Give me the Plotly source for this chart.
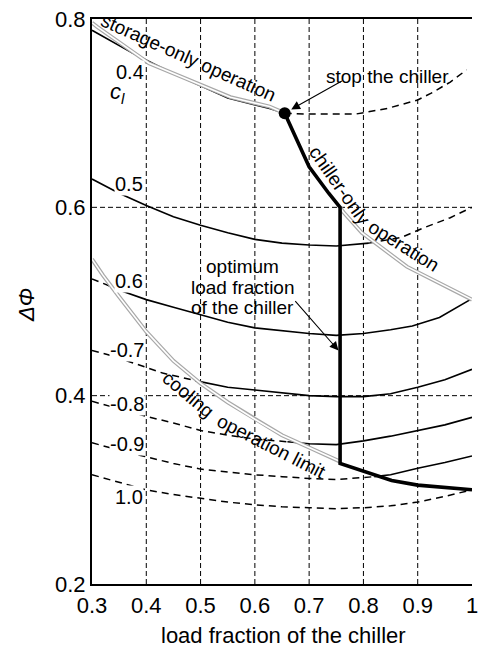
import plotly.graph_objects as go

# ---------------- data ----------------
X_TICKS = [0.3, 0.4, 0.5, 0.6, 0.7, 0.8, 0.9, 1.0]
X_TICK_TEXT = ["0.3", "0.4", "0.5", "0.6", "0.7", "0.8", "0.9", "1"]
Y_TICKS = [0.2, 0.4, 0.6, 0.8]
Y_TICK_TEXT = ["0.2", "0.4", "0.6", "0.8"]
GRID_X = [0.4, 0.5, 0.6, 0.7, 0.8, 0.9]
GRID_Y = [0.4, 0.6]

# c_l = 0.4
c04_solid_x = [0.30, 0.374, 0.45, 0.55, 0.627, 0.655]
c04_solid_y = [0.788, 0.764, 0.742, 0.716, 0.705, 0.700]
c04_dash_x = [0.655, 0.70, 0.785, 0.844, 0.90, 0.924, 0.96, 0.99]
c04_dash_y = [0.700, 0.699, 0.699, 0.705, 0.714, 0.721, 0.733, 0.746]
# c_l = 0.5
c05_solid_x = [0.30, 0.35, 0.40, 0.45, 0.50, 0.55, 0.60, 0.65, 0.70, 0.75, 0.81]
c05_solid_y = [0.630, 0.615, 0.602, 0.590, 0.581, 0.573, 0.566, 0.562, 0.560, 0.559, 0.562]
c05_dash_x = [0.81, 0.87, 0.91, 0.96, 1.00]
c05_dash_y = [0.562, 0.568, 0.578, 0.589, 0.600]
# c_l = 0.6
c06_dash_x = [0.30, 0.356]
c06_dash_y = [0.524, 0.511]
c06_solid_x = [0.356, 0.40, 0.45, 0.50, 0.55, 0.60, 0.65, 0.70, 0.75, 0.80, 0.85, 0.89, 0.94, 1.00]
c06_solid_y = [0.511, 0.502, 0.494, 0.486, 0.478, 0.472, 0.469, 0.466, 0.464, 0.466, 0.470, 0.474, 0.483, 0.503]
# c_l = 0.7
c07_dash_x = [0.30, 0.333, 0.40, 0.43, 0.46, 0.49]
c07_dash_y = [0.448, 0.443, 0.430, 0.424, 0.420, 0.416]
c07_solid_x = [0.49, 0.55, 0.60, 0.65, 0.70, 0.75, 0.80, 0.85, 0.90, 0.95, 1.00]
c07_solid_y = [0.416, 0.409, 0.406, 0.403, 0.400, 0.399, 0.399, 0.402, 0.409, 0.417, 0.428]
# c_l = 0.8
c08_dash_x = [0.30, 0.35, 0.40, 0.45, 0.50, 0.55, 0.60, 0.66]
c08_dash_y = [0.394, 0.386, 0.378, 0.371, 0.363, 0.358, 0.354, 0.351]
c08_solid_x = [0.66, 0.70, 0.75, 0.80, 0.85, 0.90, 0.95, 1.00]
c08_solid_y = [0.351, 0.349, 0.348, 0.352, 0.357, 0.363, 0.369, 0.377]
# c_l = 0.9
c09_dash_x = [0.30, 0.35, 0.40, 0.45, 0.50, 0.55, 0.60, 0.65, 0.70, 0.75, 0.80, 0.82]
c09_dash_y = [0.350, 0.342, 0.335, 0.328, 0.322, 0.319, 0.316, 0.314, 0.312, 0.311, 0.313, 0.314]
c09_solid_x = [0.82, 0.85, 0.90, 0.95, 1.00]
c09_solid_y = [0.314, 0.316, 0.323, 0.329, 0.336]
# c_l = 1.0
c10_dash_x = [0.30, 0.35, 0.40, 0.45, 0.50, 0.55, 0.60, 0.65, 0.70, 0.75, 0.80, 0.85, 0.90, 0.95, 1.00]
c10_dash_y = [0.316, 0.308, 0.300, 0.295, 0.291, 0.287, 0.284, 0.282, 0.281, 0.280, 0.281, 0.283, 0.287, 0.293, 0.300]

# operation limits
storage_x = [0.30, 0.309, 0.405, 0.555, 0.627, 0.655]
storage_y = [0.796, 0.792, 0.753, 0.717, 0.707, 0.700]
chiller_x = [0.757, 0.763, 0.797, 0.880, 1.00]
chiller_y = [0.600, 0.595, 0.573, 0.537, 0.502]
cooling_x = [0.30, 0.32, 0.35, 0.40, 0.45, 0.50, 0.55, 0.60, 0.65, 0.70, 0.757]
cooling_y = [0.545, 0.528, 0.505, 0.468, 0.437, 0.413, 0.393, 0.375, 0.358, 0.345, 0.330]

# optimum load fraction path
opt_x = [0.655, 0.663, 0.700, 0.736, 0.757, 0.757, 0.803, 0.852, 0.900, 1.00]
opt_y = [0.700, 0.690, 0.643, 0.615, 0.600, 0.328, 0.319, 0.310, 0.305, 0.300]
stop_x = [0.655]
stop_y = [0.700]

# curve labels
label_text = ["0.4", "0.5", "0.6", "-0.7", "-0.8", "-0.9", "1.0"]
label_x = [0.370, 0.369, 0.369, 0.364, 0.364, 0.364, 0.369]
label_y = [0.744, 0.625, 0.522, 0.448, 0.391, 0.349, 0.292]

FONT = "Liberation Sans, Arial, sans-serif"

fig = go.Figure()

def line(x, y, width=1.5, dash="solid", color="black"):
    fig.add_trace(go.Scatter(x=x, y=y, mode="lines", hoverinfo="skip",
                             line=dict(color=color, width=width, dash=dash),
                             showlegend=False))

CURVE_DASH = "7px,5px"
for dx, dy in [(c04_dash_x, c04_dash_y), (c05_dash_x, c05_dash_y), (c06_dash_x, c06_dash_y),
               (c07_dash_x, c07_dash_y), (c08_dash_x, c08_dash_y), (c09_dash_x, c09_dash_y),
               (c10_dash_x, c10_dash_y)]:
    line(dx, dy, 1.5, CURVE_DASH)
for sx, sy in [(c04_solid_x, c04_solid_y), (c05_solid_x, c05_solid_y), (c06_solid_x, c06_solid_y),
               (c07_solid_x, c07_solid_y), (c08_solid_x, c08_solid_y), (c09_solid_x, c09_solid_y)]:
    line(sx, sy, 1.6)

# double grey limit lines
for gx, gy in [(storage_x, storage_y), (chiller_x, chiller_y), (cooling_x, cooling_y)]:
    line(gx, gy, 4.0, "solid", "#a8a8a8")
    line(gx, gy, 1.6, "solid", "white")

# optimum path
line(opt_x, opt_y, 3.6)
fig.add_trace(go.Scatter(x=stop_x, y=stop_y, mode="markers", hoverinfo="skip",
                         marker=dict(color="black", size=12), showlegend=False))

shapes = []
for gx in GRID_X:
    shapes.append(dict(type="line", xref="x", yref="y", x0=gx, x1=gx, y0=0.2, y1=0.8,
                       line=dict(color="black", width=1, dash="5px,3px"), layer="below"))
for gy in GRID_Y:
    shapes.append(dict(type="line", xref="x", yref="y", x0=0.3, x1=1.0, y0=gy, y1=gy,
                       line=dict(color="black", width=1, dash="5px,3px"), layer="below"))

TXT = 19
ann = []
for t, x, y in zip(label_text, label_x, label_y):
    ann.append(dict(x=x, y=y, xref="x", yref="y", text=t, showarrow=False,
                    font=dict(family=FONT, size=20, color="black"),
                    bgcolor="white", borderpad=0))
ann.append(dict(x=0.347, y=0.721, xref="x", yref="y", text="<i>c</i><sub><i>l</i></sub>",
                showarrow=False, font=dict(family=FONT, size=22, color="black")))

# rotated boundary labels
ann.append(dict(x=0.477, y=0.759, xref="x", yref="y", text="storage-only operation",
                textangle=24, showarrow=False, font=dict(family=FONT, size=TXT, color="black")))
ann.append(dict(x=0.756, y=0.623, xref="x", yref="y", text="chiller-only",
                textangle=55, showarrow=False, font=dict(family=FONT, size=TXT, color="black")))
ann.append(dict(x=0.873, y=0.559, xref="x", yref="y", text="operation",
                textangle=32, showarrow=False, font=dict(family=FONT, size=TXT, color="black")))
ann.append(dict(x=0.477, y=0.401, xref="x", yref="y", text="cooling",
                textangle=40, showarrow=False, font=dict(family=FONT, size=TXT, color="black")))
ann.append(dict(x=0.631, y=0.346, xref="x", yref="y", text="operation limit",
                textangle=27, showarrow=False, font=dict(family=FONT, size=TXT, color="black")))

# stop the chiller
ann.append(dict(x=0.844, y=0.739, xref="x", yref="y", text="stop the chiller",
                showarrow=False, font=dict(family=FONT, size=TXT, color="black")))
ann.append(dict(x=0.667, y=0.704, ax=0.763, ay=0.735, xref="x", yref="y", axref="x", ayref="y",
                text="", showarrow=True, arrowhead=2, arrowsize=1.6, arrowwidth=1.1,
                arrowcolor="black", standoff=0))
# optimum load fraction
for t, y in [("optimum", 0.537), ("load fraction", 0.515), ("of the chiller", 0.494)]:
    ann.append(dict(x=0.578, y=y, xref="x", yref="y", text=t, showarrow=False,
                    font=dict(family=FONT, size=TXT, color="black")))
ann.append(dict(x=0.754, y=0.448, ax=0.672, ay=0.502, xref="x", yref="y", axref="x", ayref="y",
                text="", showarrow=True, arrowhead=2, arrowsize=1.6, arrowwidth=1.1,
                arrowcolor="black", standoff=0))

# axis titles
ann.append(dict(x=-0.171, y=0.494, xref="paper", yref="paper", text="<i>ΔΦ</i>",
                xanchor="center", yanchor="middle",
                textangle=-90, showarrow=False, font=dict(family=FONT, size=22, color="black")))
ann.append(dict(x=0.505, y=-0.117, xref="paper", yref="paper", text="load fraction of the chiller",
                xanchor="center", yanchor="bottom",
                showarrow=False, font=dict(family=FONT, size=22, color="black")))

fig.update_layout(
    width=478, height=652,
    margin=dict(l=92, r=0, t=19, b=68),
    plot_bgcolor="white", paper_bgcolor="white",
    shapes=shapes, annotations=ann,
    xaxis=dict(range=[0.3, 1.0], tickvals=X_TICKS, ticktext=X_TICK_TEXT, showgrid=False,
               zeroline=False, showline=True, linecolor="black", linewidth=2, mirror=True,
               ticks="", ticklabeloverflow="allow", ticklabelstandoff=1,
               tickfont=dict(family=FONT, size=22, color="black")),
    yaxis=dict(range=[0.2, 0.8], tickvals=Y_TICKS, ticktext=Y_TICK_TEXT, showgrid=False,
               zeroline=False, showline=True, linecolor="black", linewidth=2, mirror=False,
               ticks="", tickfont=dict(family=FONT, size=22, color="black")),
)

fig.write_html("out.html", config={"displayModeBar": False},
               post_script="document.body.style.margin='0px';")
